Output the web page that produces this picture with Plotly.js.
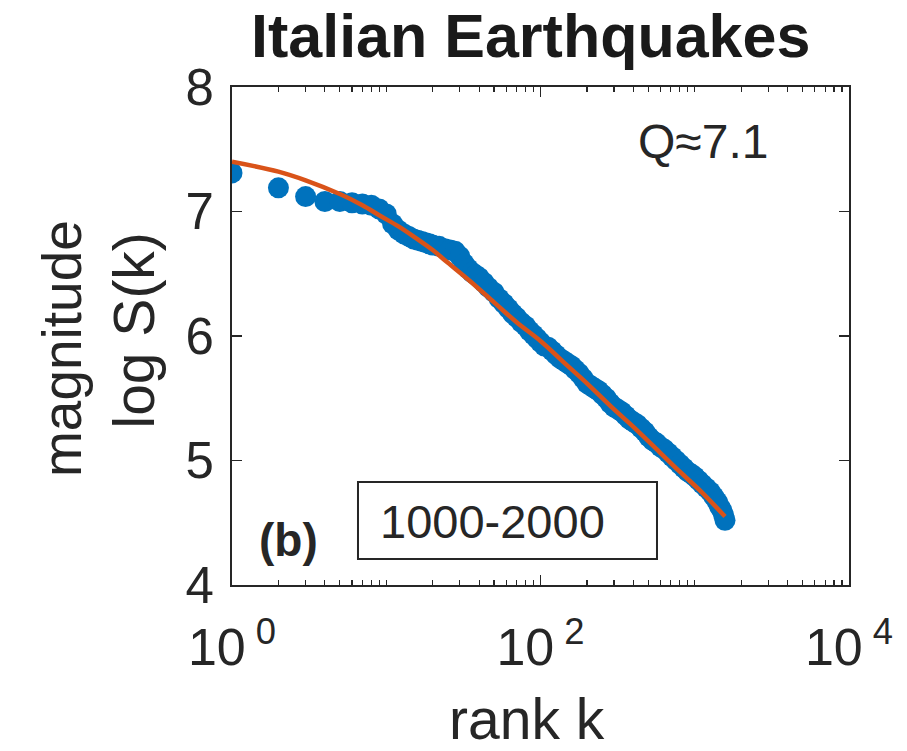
<!DOCTYPE html>
<html>
<head>
<meta charset="utf-8">
<script src="https://cdn.plot.ly/plotly-3.0.1.min.js"></script>
<style>html,body{margin:0;padding:0;background:#fff;}#chart{width:907px;height:751px;}</style>
</head>
<body>
<div id="chart"></div>
<script>
// Observed data: rank k and magnitude log S(k)
const rankK = [1,2,3,4,5,6,7,8,9,10,11,12,13,14,15,16,17,18,19,20,22,24,26,28,30,32,34,36,38,40,43,46,50,54,58,62,66,70,75,80,85,90,95,
  100,106,112,119,126,134,142,150,159,168,178,189,200,212,224,238,252,267,283,300,318,337,357,378,400,424,449,476,504,534,566,600,636,674,714,757,802,850,900,954,1000,1060,1120,1190,1260,1330,1400,1450,1500,1540,1571];
const magnitude = [7.31,7.19,7.12,7.08,7.08,7.07,7.06,7.05,7.02,6.98,6.90,6.85,6.82,6.80,6.78,6.77,6.76,6.75,6.74,6.73,6.72,6.70,6.69,6.68,6.64,6.58,6.54,6.51,6.49,6.47,6.43,6.39,6.35,6.30,6.26,6.22,6.18,6.15,6.11,6.08,6.04,6.01,5.98,
  5.95,5.92,5.91,5.88,5.85,5.82,5.80,5.78,5.76,5.73,5.70,5.66,5.62,5.60,5.58,5.56,5.53,5.50,5.46,5.43,5.41,5.39,5.36,5.33,5.31,5.29,5.26,5.23,5.19,5.16,5.14,5.11,5.09,5.06,5.03,5.00,4.97,4.94,4.91,4.89,4.87,4.84,4.81,4.78,4.75,4.71,4.67,4.63,4.60,4.56,4.52];
// Fitted curve
const fitK = [1,2,3,5,7,9,12,15,20,25,35,50,70,100,150,200,300,400,600,800,1100,1571];
const fitM = [7.40,7.32,7.25,7.14,7.05,6.97,6.88,6.80,6.69,6.59,6.44,6.27,6.11,5.96,5.76,5.62,5.41,5.27,5.06,4.91,4.75,4.55];
// Tick labels
const xTickVals = [1,100,10000];
const xTickText = ['10<sup> 0</sup>','10<sup> 2</sup>','10<sup> 4</sup>'];
const yTickVals = [4,5,6,7,8];

const minorVals = [];
for (let d = 0; d < 4; d++) for (let m = 2; m <= 10; m++) minorVals.push(m * Math.pow(10, d));

const ink = '#262626';
const font = 'Liberation Sans, Arial, Helvetica, sans-serif';

const traces = [
  {x: rankK, y: magnitude, type: 'scatter', mode: 'markers',
   marker: {color: '#0072BD', size: 21, line: {width: 0}}, hoverinfo: 'x+y'},
  {x: fitK, y: fitM, type: 'scatter', mode: 'lines',
   line: {color: '#D95319', width: 4.5, shape: 'spline'}}
];

const layout = {
  width: 907, height: 751,
  margin: {l: 232, r: 58, t: 87, b: 166},
  paper_bgcolor: '#fff', plot_bgcolor: '#fff',
  showlegend: false,
  xaxis: {
    type: 'log', range: [0, 4],
    tickmode: 'array', tickvals: xTickVals, ticktext: xTickText,
    ticks: 'inside', ticklen: 10, tickwidth: 1.5, tickcolor: ink,
    showline: true, linecolor: ink, linewidth: 2, mirror: 'allticks',
    showgrid: false, zeroline: false,
    tickfont: {family: font, size: 52, color: ink},
    ticklabelstandoff: 16,
    minor: {tickmode: 'array', tickvals: minorVals, ticks: 'inside', ticklen: 5, tickwidth: 1.2, tickcolor: ink, showgrid: false}
  },
  yaxis: {
    range: [4, 8], tickmode: 'array', tickvals: yTickVals,
    ticks: 'inside', ticklen: 10, tickwidth: 1.5, tickcolor: ink,
    showline: true, linecolor: ink, linewidth: 2, mirror: 'ticks',
    showgrid: false, zeroline: false,
    tickfont: {family: font, size: 51, color: ink},
    ticklabelstandoff: 6
  },
  shapes: [
    {type: 'rect', xref: 'paper', yref: 'paper', x0: 0.2042, x1: 0.6888, y0: 0.0522, y1: 0.2068,
     line: {color: ink, width: 2}, fillcolor: 'rgba(0,0,0,0)'}
  ],
  annotations: [
    {text: '<b>Italian Earthquakes</b>', xref: 'paper', yref: 'paper', x: 0.0276, y: 1.030,
     xanchor: 'left', yanchor: 'bottom', showarrow: false,
     font: {family: font, size: 61, color: '#1a1a1a'}},
    {text: 'rank k', xref: 'paper', yref: 'paper', x: 0.478, y: -0.27, xanchor: 'center', yanchor: 'middle',
     showarrow: false, font: {family: font, size: 57, color: ink}},
    {text: 'magnitude', xref: 'paper', yref: 'paper', x: -0.2755, y: 0.474, xanchor: 'center', yanchor: 'middle',
     textangle: -90, showarrow: false, font: {family: font, size: 55, color: ink}},
    {text: 'log S(k)', xref: 'paper', yref: 'paper', x: -0.158, y: 0.51, xanchor: 'center', yanchor: 'middle',
     textangle: -90, showarrow: false, font: {family: font, size: 57, color: ink}},
    {text: 'Q≈7.1', xref: 'paper', yref: 'paper', x: 0.7634, y: 0.89, xanchor: 'center', yanchor: 'middle',
     showarrow: false, font: {family: font, size: 48, color: ink}},
    {text: '<b>(b)</b>', xref: 'paper', yref: 'paper', x: 0.0908, y: 0.09, xanchor: 'center', yanchor: 'middle',
     showarrow: false, font: {family: font, size: 46, color: ink}},
    {text: '1000-2000', xref: 'paper', yref: 'paper', x: 0.2366, y: 0.127, xanchor: 'left', yanchor: 'middle',
     showarrow: false, font: {family: font, size: 47, color: ink}}
  ]
};

Plotly.newPlot('chart', traces, layout, {displayModeBar: false, staticPlot: true});
</script>
</body>
</html>
